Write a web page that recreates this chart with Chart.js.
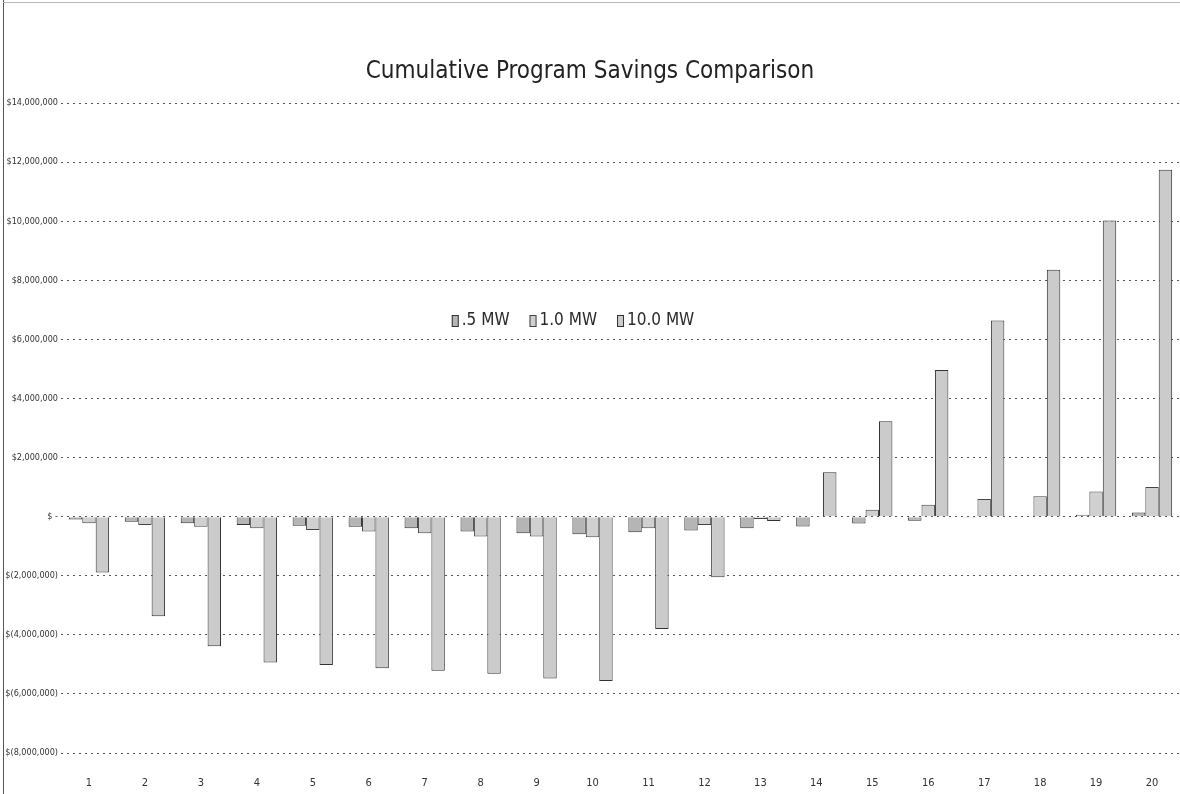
<!DOCTYPE html>
<html>
<head>
<meta charset="utf-8">
<script src="https://cdn.jsdelivr.net/npm/chart.js@4.4.1/dist/chart.umd.min.js"></script>
<style>
  html, body { margin: 0; padding: 0; background: #fff; }
  #wrap { position: relative; width: 1180px; height: 794px; }
  #edge { position: absolute; left: 3px; top: 0; width: 1px; height: 794px; background: #555; }
  #topedge { position: absolute; left: 3px; top: 2px; width: 1177px; height: 1px; background: #bbb; }
</style>
</head>
<body>
<div id="wrap">
  <canvas id="c" width="1180" height="794"></canvas>
  <div id="edge"></div>
  <div id="topedge"></div>
</div>
<script>
const categories = ['1','2','3','4','5','6','7','8','9','10','11','12','13','14','15','16','17','18','19','20'];
const seriesNames = ['.5 MW', '1.0 MW', '10.0 MW'];
const halfMW = [-100000, -170000, -220000, -280000, -310000, -340000, -390000, -500000, -560000, -600000, -530000, -470000, -390000, -330000, -230000, -140000, -30000, 10000, 60000, 140000];
const oneMW = [-220000, -280000, -340000, -390000, -450000, -500000, -560000, -670000, -670000, -700000, -390000, -280000, -80000, 20000, 230000, 400000, 600000, 690000, 850000, 1000000];
const tenMW = [-1890000, -3370000, -4390000, -4940000, -5020000, -5130000, -5220000, -5320000, -5480000, -5560000, -3800000, -2050000, -150000, 1500000, 3230000, 4960000, 6640000, 8360000, 10020000, 11740000];
const yTicks = { min: -8000000, max: 14000000, step: 2000000 };
const titleText = 'Cumulative Program Savings Comparison';

const fills = ['#b5b5b5', '#d0d0d0', '#cbcbcb'];
const borders = ['#333333', '#444444', '#333333'];
const fontFam = '"Liberation Sans Narrow", "Arial Narrow", "DejaVu Sans Condensed", sans-serif';

function fmt(v) {
  if (v === 0) return '$ -';
  const s = Math.abs(v).toLocaleString('en-US');
  return v < 0 ? '$(' + s + ')' : '$' + s;
}

const innerLegend = {
  id: 'innerLegend',
  afterDraw(chart) {
    const ctx = chart.ctx;
    ctx.save();
    ctx.font = '17px ' + fontFam;
    ctx.textBaseline = 'middle';
    const y = 321;
    const box = 7, gapBox = 3, gapItem = 20;
    const items = chart.data.datasets.map((d, i) => ({ label: d.label, w: ctx.measureText(d.label).width, i }));
    let total = items.reduce((a, it) => a + box + gapBox + it.w, 0) + gapItem * (items.length - 1);
    let x = 573 - total / 2;
    items.forEach(it => {
      const ds = chart.data.datasets[it.i];
      ctx.fillStyle = ds.backgroundColor;
      ctx.strokeStyle = ds.borderColor;
      ctx.lineWidth = 1;
      ctx.fillRect(x, y - 6, box, 12);
      ctx.strokeRect(x + 0.5, y - 5.5, box - 1, 11);
      x += box + gapBox;
      ctx.fillStyle = '#2a2a2a';
      ctx.fillText(it.label, x, y);
      x += it.w + gapItem;
    });
    ctx.restore();
  }
};

new Chart(document.getElementById('c'), {
  type: 'bar',
  data: {
    labels: categories,
    datasets: [
      { label: seriesNames[0], data: halfMW, backgroundColor: fills[0], borderColor: borders[0], borderWidth: 1 },
      { label: seriesNames[1], data: oneMW, backgroundColor: fills[1], borderColor: borders[1], borderWidth: 1 },
      { label: seriesNames[2], data: tenMW, backgroundColor: fills[2], borderColor: borders[2], borderWidth: 1 }
    ]
  },
  options: {
    responsive: false,
    animation: false,
    devicePixelRatio: 1,
    layout: { padding: { left: 0, right: 0, top: 0, bottom: 0 } },
    datasets: { bar: { categoryPercentage: 0.72, barPercentage: 1.0 } },
    plugins: {
      legend: { display: false },
      tooltip: { enabled: false },
      title: {
        display: true,
        text: titleText,
        color: '#222',
        font: { family: fontFam, size: 24, weight: 'normal', lineHeight: 1.2 },
        padding: { top: 57, bottom: 17.2 }
      }
    },
    scales: {
      x: {
        grid: { display: false },
        border: { display: false },
        ticks: { color: '#333', font: { family: fontFam, size: 11 }, padding: 16, maxRotation: 0 },
        afterFit(s) { s.height = 41; }
      },
      y: {
        min: yTicks.min,
        max: yTicks.max,
        border: { display: false, dash: [2, 4] },
        grid: { color: '#555', lineWidth: 1, drawTicks: false },
        ticks: {
          stepSize: yTicks.step,
          color: '#333',
          font: { family: fontFam, size: 9 },
          padding: 3,
          callback: (v) => fmt(v)
        },
        afterFit(s) { s.width = 61; }
      }
    }
  },
  plugins: [innerLegend]
});
</script>
</body>
</html>
